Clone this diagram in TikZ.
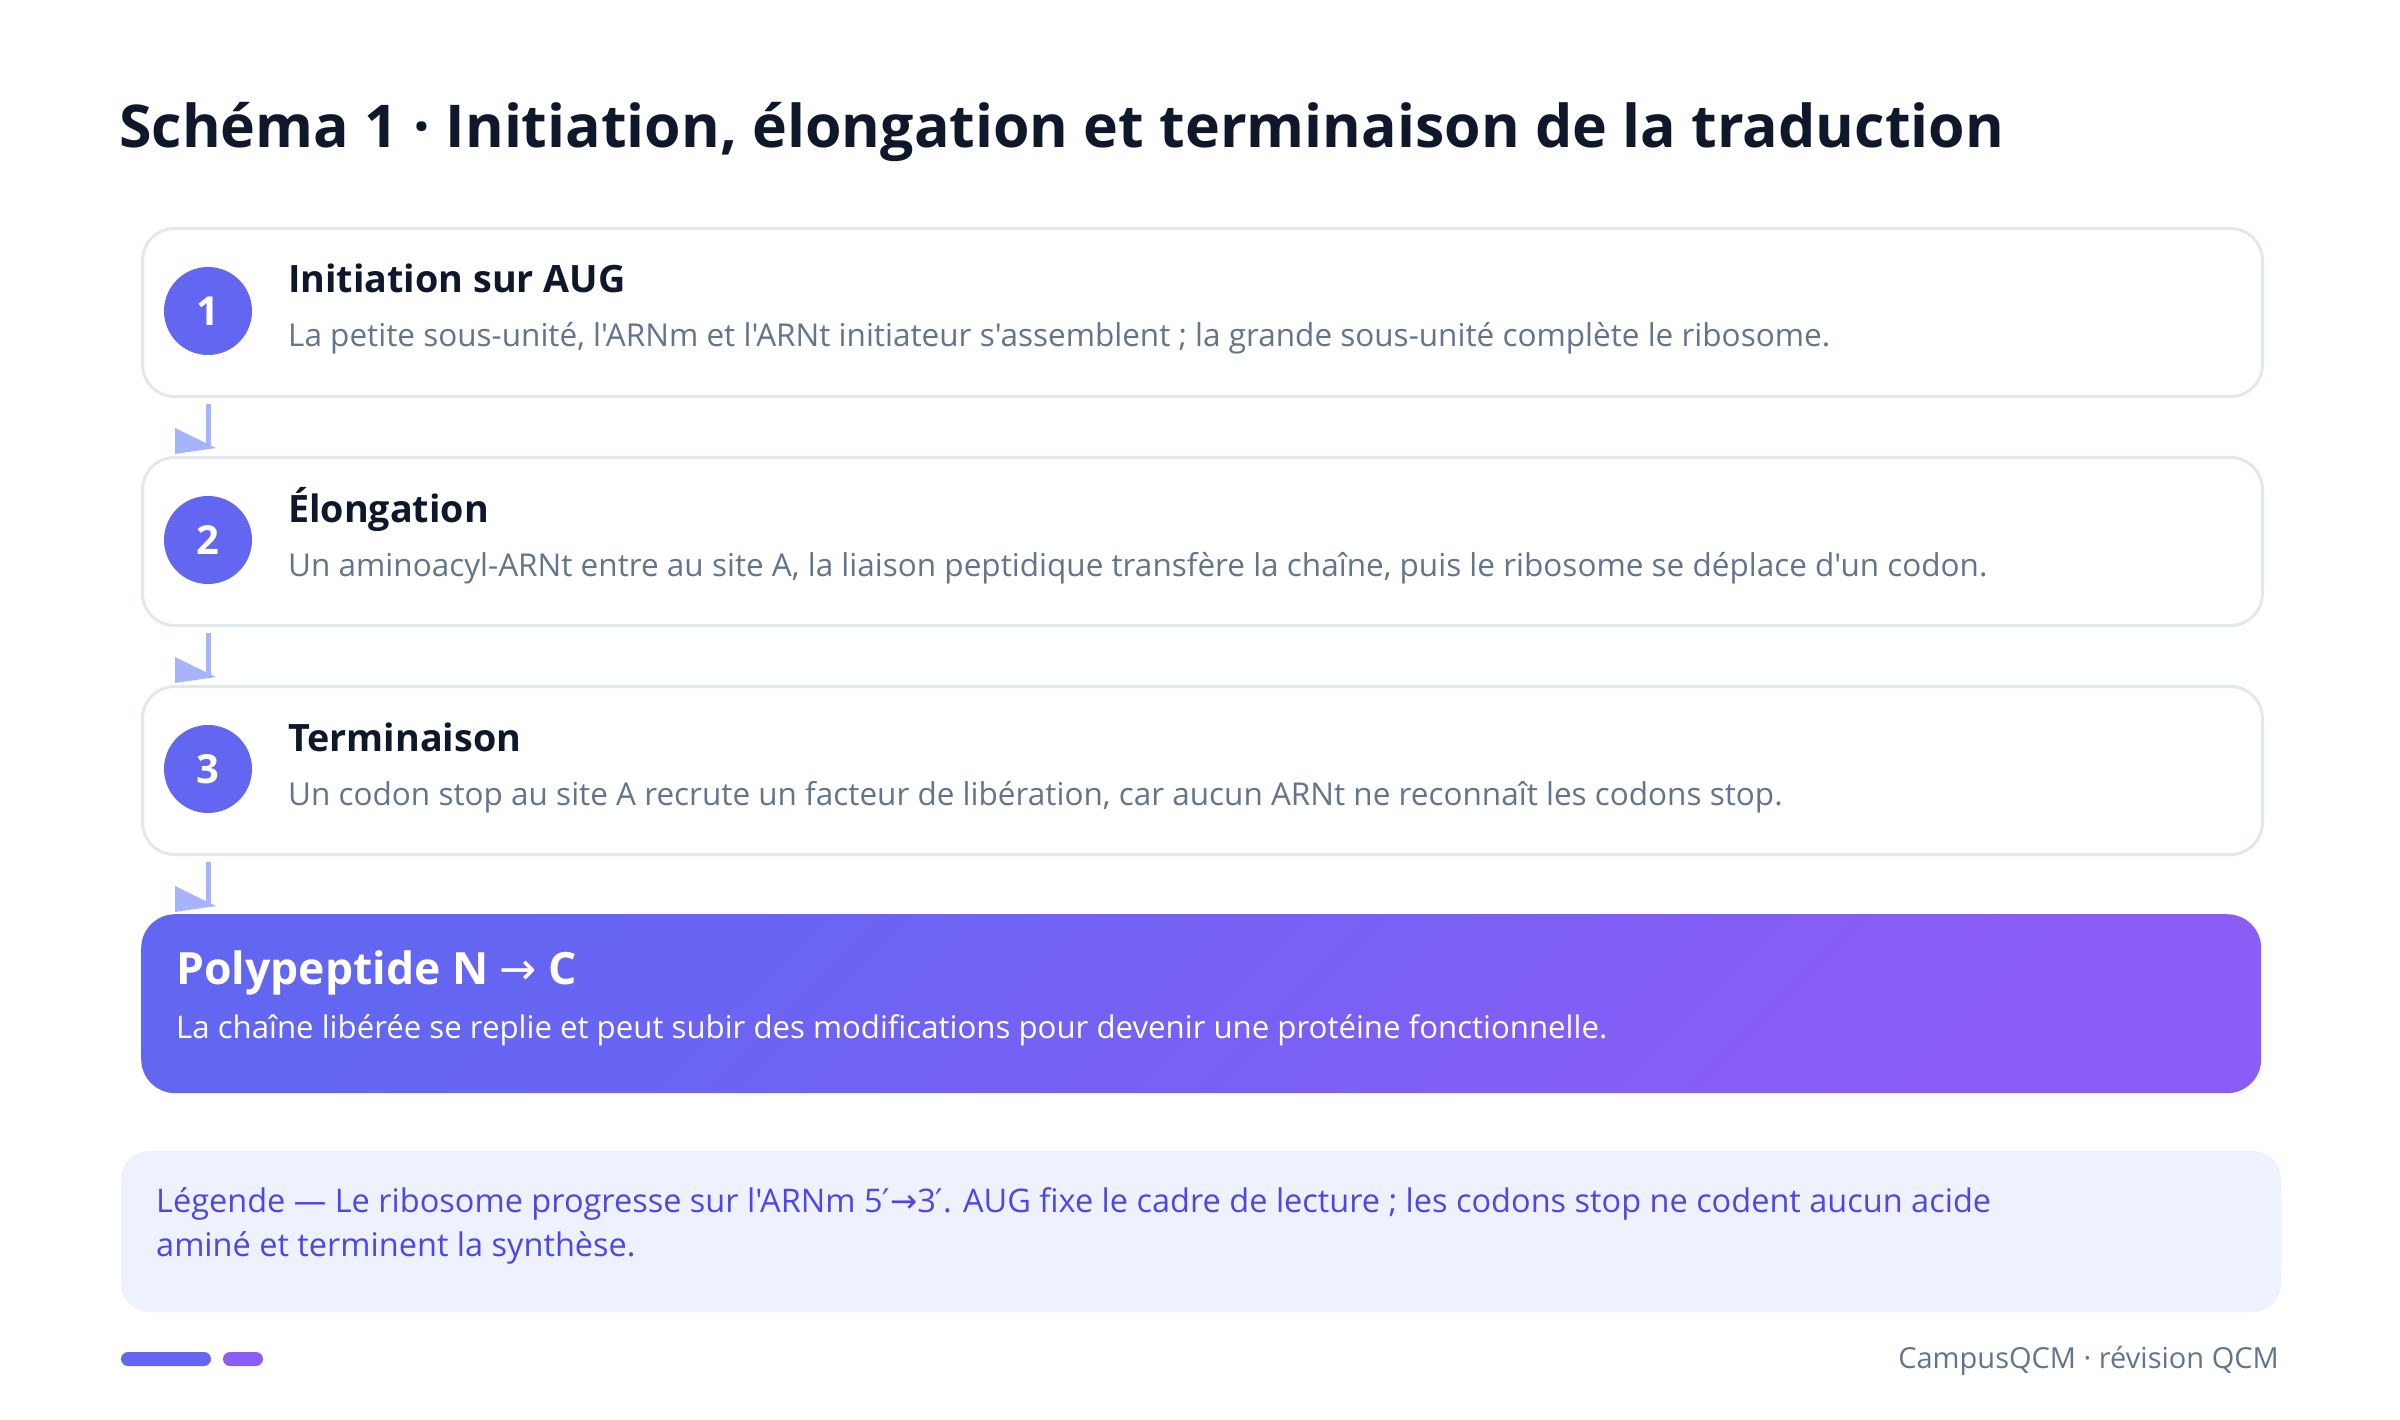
\documentclass[tikz,border=0pt]{standalone}
\usepackage{fontspec}
\setmainfont{Open Sans}[Ligatures=TeXOff]
\newfontfamily\symfont{DejaVu Sans}

\definecolor{ink}{HTML}{0F172A}
\definecolor{slate}{HTML}{64748B}
\definecolor{indigo}{HTML}{6366F1}
\definecolor{violet}{HTML}{8B5CF6}
\definecolor{flow}{HTML}{A5B4FC}
\definecolor{boxline}{HTML}{E2E8F0}
\definecolor{legendfill}{HTML}{EEF2FF}
\definecolor{legendtext}{HTML}{4F46E5}

\tikzset{
  stepbox/.style={draw=boxline, line width=3pt, fill=white, rounded corners=32pt,
    minimum width=2120pt, minimum height=168pt, anchor=north west, inner sep=0pt},
  stepnum/.style={circle, fill=indigo, text=white, minimum size=88pt, inner sep=0pt,
    font=\fontsize{40}{48}\selectfont\bfseries},
  steptitle/.style={anchor=base west, text=ink, inner sep=0pt,
    font=\fontsize{37.7}{45}\selectfont\bfseries},
  stepdesc/.style={anchor=base west, text=slate, inner sep=0pt,
    font=\fontsize{31.5}{38}\selectfont},
  flowline/.style={draw=flow, line width=5pt},
  flowtip/.style={fill=flow},
}

\begin{document}
\begin{tikzpicture}[x=1pt, y=-1pt]
    % page
    \fill[white] (0, 0) rectangle (2400, 1420);
    \useasboundingbox (0, 0) rectangle (2400, 1420);

    % Title
    \node[anchor=base west, inner sep=0pt, text=ink, font=\fontsize{59}{70}\selectfont\bfseries]
        (title) at (119, 148) {Schéma 1 · Initiation, élongation et terminaison de la traduction};

    % Stage 1
    \node[stepbox] (step1) at (141, 227) {};
    \node[stepnum] (num1) at (208, 311) {1};
    \node[steptitle] (title1) at (288, 293) {Initiation sur AUG};
    \node[stepdesc] (desc1) at (288, 347) {La petite sous-unité, l'ARNm et l'ARNt initiateur s'assemblent ; la grande sous-unité complète le ribosome.};

    % Stage 2
    \node[stepbox] (step2) at (141, 456) {};
    \node[stepnum] (num2) at (208, 540) {2};
    \node[steptitle] (title2) at (288, 522) {Élongation};
    \node[stepdesc] (desc2) at (288, 576) {Un aminoacyl-ARNt entre au site A, la liaison peptidique transfère la chaîne, puis le ribosome se déplace d'un codon.};

    % Stage 3
    \node[stepbox] (step3) at (141, 685) {};
    \node[stepnum] (num3) at (208, 769) {3};
    \node[steptitle] (title3) at (288, 751) {Terminaison};
    \node[stepdesc] (desc3) at (288, 805) {Un codon stop au site A recrute un facteur de libération, car aucun ARNt ne reconnaît les codons stop.};

    % Result
    \node[anchor=north west, minimum width=2120pt, minimum height=179pt, inner sep=0pt,
        rounded corners=34pt, shading=axis, bottom color=indigo, top color=violet, shading angle=225]
        (result) at (141, 914) {};
    \node[anchor=base west, inner sep=0pt, text=white, font=\fontsize{44.5}{53}\selectfont\bfseries]
        (resulttitle) at (176, 984) {Polypeptide N {\symfont\mdseries →} C};
    \node[anchor=base west, inner sep=0pt, text=white, font=\fontsize{31.2}{38}\selectfont]
        (resultdesc) at (176, 1038) {La chaîne libérée se replie et peut subir des modifications pour devenir une protéine fonctionnelle.};

    % Arrows between stages
    \coordinate (flow1top) at (208, 404);
    \coordinate (flow1end) at (208, 448);
    \draw[flowline] (flow1top) -- (flow1end);
    \fill[flowtip] (175, 428) -- (175, 454) -- (216, 448) -- cycle;

    \coordinate (flow2top) at (208, 633);
    \coordinate (flow2end) at (208, 677);
    \draw[flowline] (flow2top) -- (flow2end);
    \fill[flowtip] (175, 657) -- (175, 683) -- (216, 677) -- cycle;

    \coordinate (flow3top) at (208, 862);
    \coordinate (flow3end) at (208, 906);
    \draw[flowline] (flow3top) -- (flow3end);
    \fill[flowtip] (175, 886) -- (175, 912) -- (216, 906) -- cycle;

    % Legend
    \fill[legendfill, rounded corners=28pt] (121, 1151) rectangle (2281, 1312);
    \node[anchor=base west, inner sep=0pt, text=legendtext, font=\fontsize{32.5}{39}\selectfont]
        (legend1) at (156, 1212) {Légende — Le ribosome progresse sur l'ARNm 5{\symfont ′→}3{\symfont ′}. AUG fixe le cadre de lecture ; les codons stop ne codent aucun acide};
    \node[anchor=base west, inner sep=0pt, text=legendtext, font=\fontsize{32.5}{39}\selectfont]
        (legend2) at (156, 1256) {aminé et terminent la synthèse.};

    % Footer
    \fill[indigo, rounded corners=7pt] (121, 1352) rectangle (211, 1366);
    \fill[violet, rounded corners=7pt] (223, 1352) rectangle (263, 1366);
    \node[anchor=base east, inner sep=0pt, text=slate, font=\fontsize{29}{35}\selectfont]
        (footer) at (2279, 1368) {CampusQCM · révision QCM};
\end{tikzpicture}
\end{document}
